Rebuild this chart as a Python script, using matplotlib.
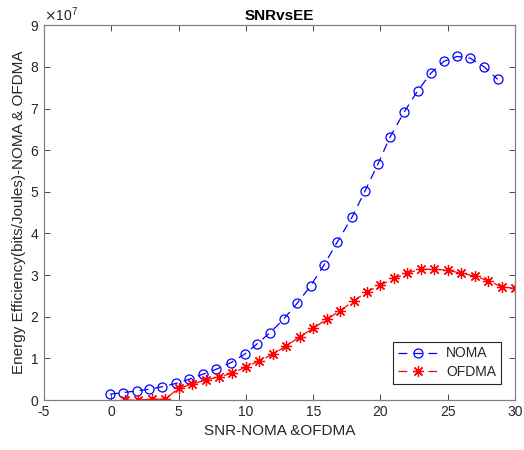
import numpy as np
import matplotlib
matplotlib.use("Agg")
import matplotlib.pyplot as plt
from matplotlib.ticker import ScalarFormatter

plt.rcParams['font.family'] = ['Liberation Sans', 'DejaVu Sans']
plt.rcParams['axes.unicode_minus'] = False

# Data (EE values in units of 1e7 bits/Joule)
noma_snr = [-0.1, 0.9, 1.9, 2.8, 3.8, 4.8, 5.8, 6.8, 7.8, 8.9, 9.9, 10.8, 11.8,
            12.8, 13.8, 14.8, 15.8, 16.8, 17.9, 18.85, 19.8, 20.7, 21.75, 22.75,
            23.75, 24.7, 25.7, 26.65, 27.7, 28.7]
noma_ee = [0.14, 0.18, 0.22, 0.26, 0.32, 0.40, 0.50, 0.62, 0.74, 0.90, 1.10,
           1.34, 1.62, 1.94, 2.32, 2.74, 3.24, 3.80, 4.40, 5.02, 5.66, 6.31,
           6.91, 7.42, 7.85, 8.13, 8.25, 8.21, 8.00, 7.70]
ofdma_snr = list(range(1, 31))
ofdma_ee = [0.0, 0.0, 0.02, 0.02, 0.28, 0.38, 0.48, 0.56, 0.64, 0.80, 0.94,
            1.10, 1.30, 1.52, 1.72, 1.94, 2.14, 2.38, 2.60, 2.76, 2.92, 3.05,
            3.14, 3.14, 3.12, 3.04, 2.98, 2.86, 2.72, 2.68]
scale = 1e7

fig = plt.figure(figsize=(5.24, 4.5), dpi=100)
ax = fig.add_axes([0.084, 0.111, 0.899, 0.833])

gray = (0.15, 0.15, 0.15)
dash = (0, (7, 5))
ax.plot(noma_snr, np.array(noma_ee) * scale, linestyle=dash, color=(0, 0, 1),
        marker='o', markersize=6.5, markerfacecolor='none', markeredgewidth=0.9,
        linewidth=0.9, label='NOMA')
ax.plot(ofdma_snr, np.array(ofdma_ee) * scale, linestyle=dash, color=(1, 0, 0),
        marker=(8, 2, 0), markersize=8, markeredgewidth=0.9,
        linewidth=0.9, label='OFDMA')

ax.set_xlim(-5, 30)
ax.set_ylim(0, 9e7)
ax.set_xticks(range(-5, 31, 5))
ax.set_yticks(np.arange(0, 9.1, 1) * scale)
fmt = ScalarFormatter(useMathText=True)
fmt.set_powerlimits((0, 0))
ax.yaxis.set_major_formatter(fmt)
ax.yaxis.get_offset_text().set_fontsize(10)
ax.yaxis.get_offset_text().set_color((0.5, 0.5, 0.5))

ax.tick_params(direction='in', top=True, right=True, labelsize=10,
               colors=gray, length=4, width=0.6)
for s in ax.spines.values():
    s.set_color((0.5, 0.5, 0.5))
    s.set_linewidth(0.9)

ax.set_title('SNRvsEE', fontsize=11, fontweight='bold', pad=4)
ax.set_xlabel('SNR-NOMA &OFDMA', fontsize=11, color=gray, labelpad=4)
ax.set_ylabel('Energy Efficiency(bits/Joules)-NOMA & OFDMA', fontsize=11, color=gray, labelpad=3)

leg = ax.legend(loc='lower right', bbox_to_anchor=(0.985, 0.024), fontsize=10,
                fancybox=False, framealpha=1, edgecolor=gray, handlelength=3.0,
                handletextpad=0.5, borderpad=0.35, labelspacing=0.35)
leg.get_frame().set_linewidth(0.8)
for t in leg.get_texts():
    t.set_color(gray)

fig.savefig('out.png', dpi=100)
